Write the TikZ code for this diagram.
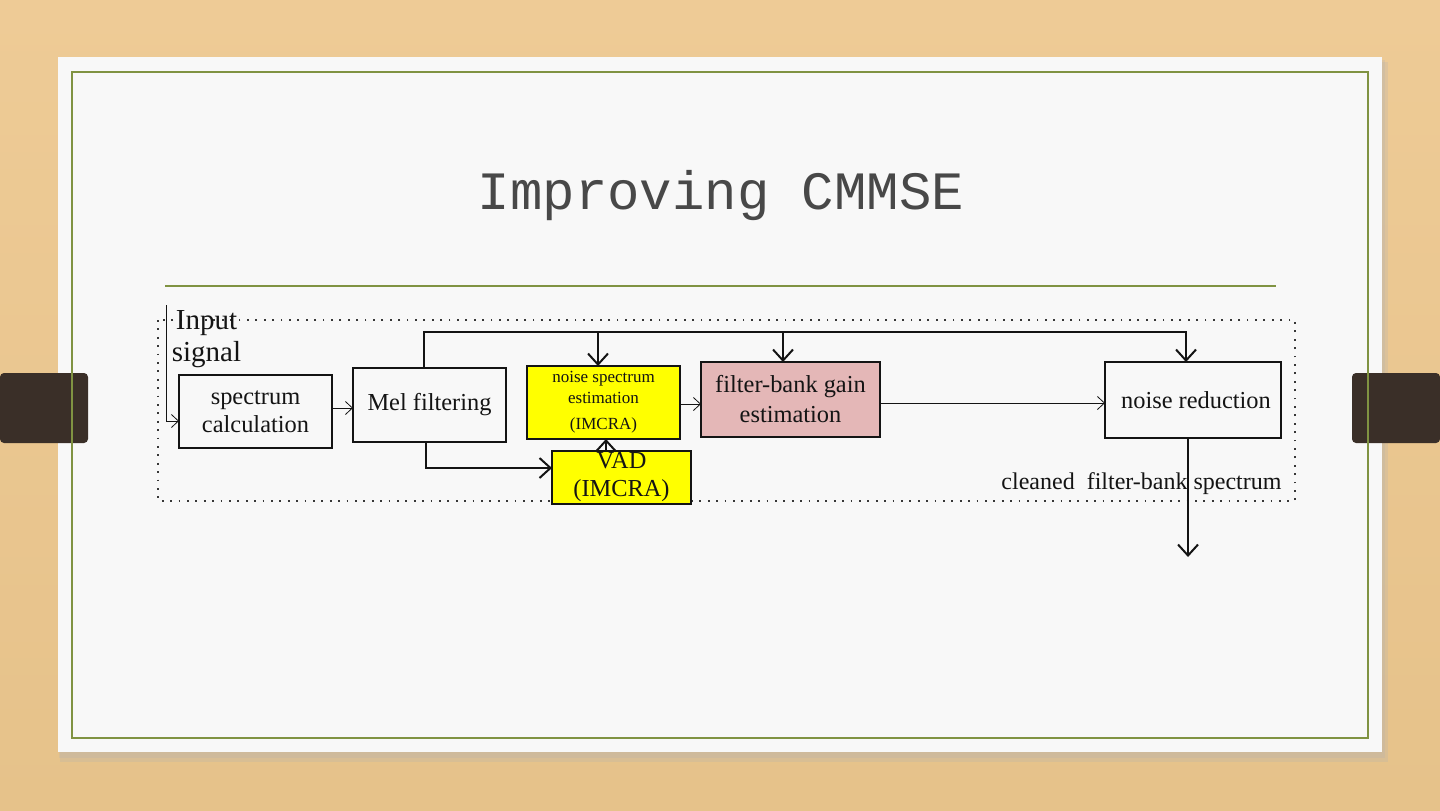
\documentclass[tikz,border=0pt]{standalone}
\usepackage{fontspec}
\setmainfont{Liberation Serif}
\newfontfamily\titlefont{Liberation Mono}
\usetikzlibrary{arrows.meta}
\definecolor{woodtop}{RGB}{238,203,150}
\definecolor{woodbot}{RGB}{230,194,138}
\definecolor{card}{RGB}{248,248,248}
\definecolor{olive}{RGB}{128,147,66}
\definecolor{strap}{RGB}{58,47,40}
\definecolor{hl}{RGB}{255,255,0}
\definecolor{pinkbox}{RGB}{228,183,183}
\definecolor{ink}{RGB}{20,20,20}
\definecolor{titlegray}{RGB}{72,72,72}
\begin{document}
\begin{tikzpicture}[x=0.5pt,y=-0.5pt,
  box/.style={draw=ink, line width=1pt, inner sep=0pt, outer sep=0pt, align=center, text=ink, font=\fontsize{12.2}{14}\selectfont},
  thk/.style={draw=ink,line width=1pt,-{Straight Barb[length=5.5pt,width=10pt]}},
  thn/.style={draw=ink,line width=0.4pt,-{Straight Barb[length=3.5pt,width=6.5pt]}},
  lbl/.style={text=ink, inner sep=0pt, align=center}
]
\useasboundingbox (0,0) rectangle (1440,810);
% background
\shade[top color=woodtop, bottom color=woodbot] (0,0) rectangle (1440,810);
% card shadow
\fill[black!30, opacity=0.25] (60,62) rectangle (1388,762);
\fill[black!30, opacity=0.25] (59,60) rectangle (1385,758);
\fill[card] (58,57) rectangle (1382,752);
% straps
\fill[strap, rounded corners=2pt] (0,373) rectangle (88,443);
\fill[strap, rounded corners=2pt] (1352,373) rectangle (1440,443);
% green frame
\draw[olive, line width=1.1pt] (72,72) rectangle (1368,738);
\draw[olive, line width=0.8pt] (165,286) -- (1276,286);
% title
\node[text=titlegray, font=\titlefont\fontsize{27}{30}\selectfont] (title) at (721,196) {Improving CMMSE};

% dotted frame
\draw[ink!85, line width=0.9pt, dash pattern=on 0.9pt off 3.3pt] (158,320) rectangle (1295,501);

% boxes
\node[box, minimum width=76.5pt, minimum height=36.5pt] (spec) at (255.5,411.5) {spectrum\\calculation};
\node[box, minimum width=76.5pt, minimum height=37pt] (mel) at (429.5,405) {Mel filtering};
\node[box, fill=hl, minimum width=76.5pt, minimum height=36.5pt, font=\fontsize{8.5}{10.5}\selectfont] (nse) at (603.5,402.5) {noise spectrum\\estimation\\[2.5pt](IMCRA)};
\node[box, fill=hl, minimum width=69.5pt, minimum height=26.5pt] (vad) at (621.5,477.5) {VAD\\(IMCRA)};
\node[box, fill=pinkbox, minimum width=89.5pt, minimum height=37.5pt, font=\fontsize{12.2}{15}\selectfont] (fbg) at (790.5,399.5) {filter-bank gain\\estimation};
\node[box, minimum width=88pt, minimum height=38pt] (nr) at (1193,400) {\hspace*{3pt}noise reduction};

% labels
\node[lbl, font=\fontsize{14.5}{16}\selectfont] (inp) at (206.5,339) {Input\\signal};
\node[lbl, font=\fontsize{12}{14}\selectfont] (clean) at (1141.5,484) {cleaned\ \ filter-bank spectrum};

% coordinates
\coordinate (inTop) at (166,305);
\coordinate (bus) at (500,332);
\coordinate (vadRow) at (500,468);
\coordinate (outEnd) at (1188,557);
\path ([xshift=-2.75pt]mel.north) coordinate (melT)
      ([xshift=-1.75pt]mel.south) coordinate (melB)
      ([xshift=-2.75pt]nse.north) coordinate (nseT)
      ([xshift=-3.75pt]fbg.north) coordinate (fbgT)
      ([xshift=-3.5pt]nr.north) coordinate (nrT)
      ([xshift=-2.5pt]nr.south) coordinate (nrB)
      ([xshift=-7.75pt]vad.north) coordinate (vadT)
      ([yshift=-4.75pt]spec.west) coordinate (specIn)
      ([yshift=1.75pt]spec.east) coordinate (specOut)
      ([yshift=-0.75pt]nse.east) coordinate (nseOut)
      ([yshift=-1.75pt]fbg.east) coordinate (fbgOut);

% connectors
\draw[thn] (inTop) |- (specIn);
\draw[thn] (specOut) -- (specOut -| mel.west);
\draw[thk] (melT) |- (bus) -| (nrT);
\draw[thk] (bus -| nseT) -- (nseT);
\draw[thk] (bus -| fbgT) -- (fbgT);
\draw[thk] (melB) |- (vadRow -| vad.west);
\draw[thk] (vadT) -- (vadT |- nse.south);
\draw[thn] (nseOut) -- (nseOut -| fbg.west);
\draw[thn] (fbgOut) -- (fbgOut -| nr.west);
\draw[thk] (nrB) -- (outEnd);
\end{tikzpicture}
\end{document}
